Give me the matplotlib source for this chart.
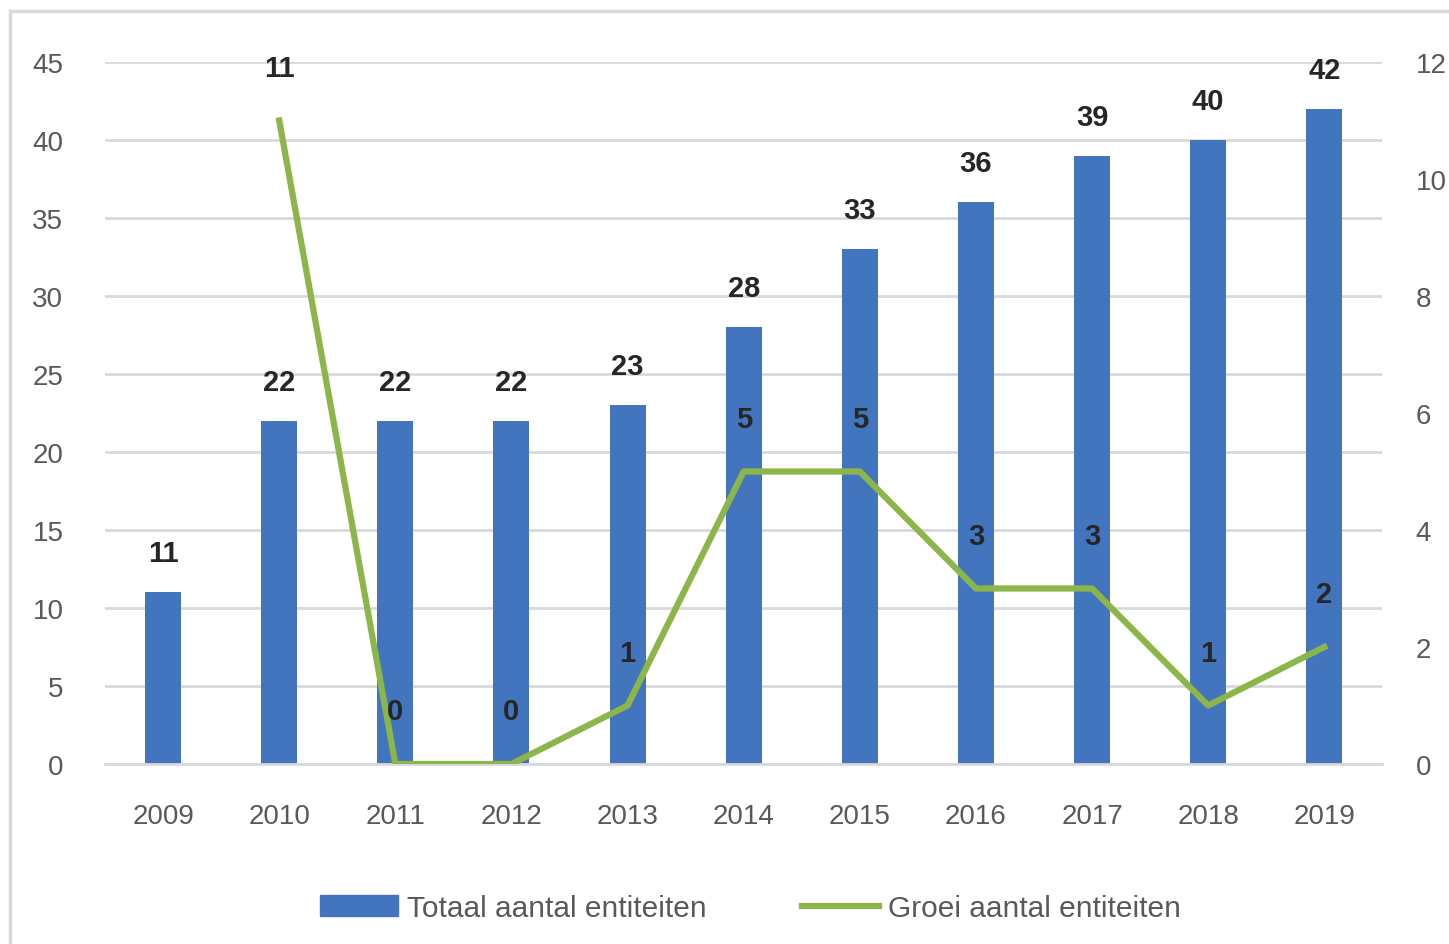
import matplotlib.pyplot as plt
from matplotlib.patches import Rectangle
from matplotlib.lines import Line2D

plt.rcParams['font.family'] = ['Liberation Sans Narrow', 'Liberation Sans', 'DejaVu Sans']

# data
jaren = ['2009', '2010', '2011', '2012', '2013', '2014', '2015', '2016', '2017', '2018', '2019']
totaal = [11, 22, 22, 22, 23, 28, 33, 36, 39, 40, 42]
groei_jaren = ['2010', '2011', '2012', '2013', '2014', '2015', '2016', '2017', '2018', '2019']
groei = [11, 0, 0, 1, 5, 5, 3, 3, 1, 2]

bar_kleur = '#4275BD'
lijn_kleur = '#8DB64A'
tekst_grijs = '#595959'

fig = plt.figure(figsize=(14.49, 9.45), dpi=100)
ax = fig.add_axes([0.0725, 0.1905, 0.8815, 0.7428])
ax2 = ax.twinx()

x = list(range(len(jaren)))
bars = ax.bar(x, totaal, width=0.31, color=bar_kleur, zorder=2)
for xi, v in zip(x, totaal):
    ax.annotate(str(v), (xi, v), xytext=(0, 18), textcoords='offset points',
                ha='center', va='bottom', fontsize=21, color='#262626', fontweight='bold')

gx = [jaren.index(j) for j in groei_jaren]
ax2.plot(gx, groei, color=lijn_kleur, lw=4.5, zorder=3, solid_joinstyle='round')
for xi, v in zip(gx, groei):
    ax2.annotate(str(v), (xi, v), xytext=(0, 28), textcoords='offset points',
                 ha='center', va='bottom', fontsize=21, color='#262626', fontweight='bold')

ax.set_xlim(-0.5, len(jaren) - 0.5)
ax.set_ylim(0, 45)
ax.set_yticks(range(0, 50, 5))
ax2.set_ylim(0, 12)
ax2.set_yticks(range(0, 14, 2))
ax.set_xticks(x)
ax.set_xticklabels(jaren)

ax.grid(axis='y', color='#D9D9D9', lw=2, zorder=0)
ax.set_axisbelow(True)
for a in (ax, ax2):
    for s in a.spines.values():
        s.set_visible(False)
    a.tick_params(length=0, colors=tekst_grijs, labelsize=20)
ax.tick_params(axis='x', pad=28)
ax.tick_params(axis='y', pad=30)
ax2.tick_params(axis='y', pad=24)
ax.spines['bottom'].set_visible(True)
ax.spines['bottom'].set_color('#D9D9D9')
ax.spines['bottom'].set_linewidth(2)

handles = [Rectangle((0, 0), 1, 1, color=bar_kleur),
           Line2D([0], [0], color=lijn_kleur, lw=4.5)]
fig.legend(handles, ['Totaal aantal entiteiten', 'Groei aantal entiteiten'],
           loc='center', bbox_to_anchor=(0.518, 0.038), ncol=2, frameon=False,
           fontsize=21.5, labelcolor=tekst_grijs, handlelength=2.6, handletextpad=0.3,
           columnspacing=3.2)

fig.patches.append(Rectangle((0.007, -0.02), 1.02, 1.007, transform=fig.transFigure,
                             fill=False, edgecolor='#D9D9D9', lw=2.5))

fig.savefig('out.png', dpi=100)
